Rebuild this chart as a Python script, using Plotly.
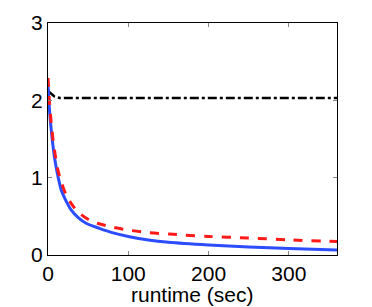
import plotly.graph_objects as go

blue_x = [0, 2, 5, 8, 10.8, 16.5, 22, 29, 38, 47.5, 64, 80, 101.5, 125, 150, 200, 250, 300, 360]
blue_vals = [2.20, 1.85, 1.52, 1.27, 1.10, 0.84, 0.71, 0.58, 0.48, 0.41, 0.345, 0.29, 0.237, 0.195, 0.165, 0.13, 0.105, 0.085, 0.065]
red_x = [0, 2, 5, 8, 12.3, 17, 22.7, 30, 37, 51.7, 61.6, 80, 101.5, 125, 151, 200, 250, 300, 360]
red_vals = [2.29, 1.95, 1.60, 1.36, 1.10, 0.93, 0.775, 0.65, 0.56, 0.45, 0.41, 0.36, 0.32, 0.29, 0.27, 0.24, 0.22, 0.195, 0.175]
black_x = [0, 3, 8, 15, 60, 120, 200, 300, 360]
black_vals = [2.12, 2.09, 2.05, 2.03, 2.03, 2.03, 2.03, 2.03, 2.03]
x_title = "runtime (sec)"

fig = go.Figure()
fig.add_trace(go.Scatter(x=black_x, y=black_vals, mode="lines",
                         line=dict(color="black", width=2.5, dash="dashdot")))
fig.add_trace(go.Scatter(x=blue_x, y=blue_vals, mode="lines",
                         line=dict(color="#2b4dff", width=3, shape="spline", smoothing=0.8)))
fig.add_trace(go.Scatter(x=red_x, y=red_vals, mode="lines",
                         line=dict(color="#ff1a1a", width=3, dash="dash", shape="spline", smoothing=0.8)))

axis_common = dict(showgrid=False, zeroline=False, showline=True, linecolor="black",
                   linewidth=1, mirror="ticks", ticks="inside", ticklen=4,
                   tickcolor="#888", tickfont=dict(size=21, color="black"), automargin=False)
fig.update_layout(
    width=364, height=299,
    margin=dict(l=40, r=35, t=15, b=52),
    paper_bgcolor="white", plot_bgcolor="white",
    showlegend=False,
    font=dict(family="Liberation Sans, Arial, sans-serif", size=21, color="black"),
    xaxis=dict(range=[0, 360], tickvals=[0, 100, 200, 300], **axis_common),
    yaxis=dict(range=[0, 3], tickvals=[0, 1, 2, 3], ticklabelstandoff=0, **axis_common),
    annotations=[dict(text=x_title, xref="paper", yref="paper", x=0.5, y=0,
                      xanchor="center", yanchor="middle", yshift=-39, showarrow=False,
                      font=dict(size=21, color="black"))],
)
fig.write_html("out.html")
